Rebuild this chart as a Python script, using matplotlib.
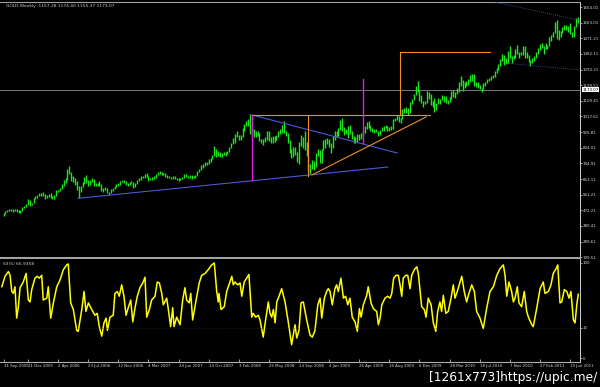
import numpy as np
import matplotlib
matplotlib.use("Agg")
import matplotlib.pyplot as plt
import matplotlib.transforms as mtransforms

# weekly bars from 11 Sep 2005, one value per week
hi = [453, 470, 474,
      478, 480, 477, 478, 477,
      472, 472, 490, 498,
      508, 538, 530, 516,
      542, 552, 561, 570, 573,
      575, 567, 558, 566,
      570, 553, 560, 587,
      590, 600, 625, 646, 660,
      710, 730, 695, 670,
      660, 640, 615, 610,
      633, 665, 675, 645, 645,
      660, 655, 632, 632,
      640, 625, 600, 605,
      602, 580, 593, 600, 610,
      627, 632, 642, 650,
      650, 640, 628, 635, 640,
      636, 632, 650, 657,
      668, 670, 684, 688,
      673, 658, 665, 670,
      680, 692, 697, 693, 686,
      686, 676, 672, 664,
      673, 670, 662, 658,
      658, 667, 685, 685, 670,
      675, 675, 670, 676,
      697, 713, 732, 740, 750,
      750, 770, 775, 795,
      845, 830, 815, 812,
      807, 812, 808, 818, 838,
      865, 892, 913, 930,
      912, 912, 950, 975,
      990, 1005, 1032, 948, 945,
      930, 935, 920, 885,
      888, 898, 930, 935,
      898, 902, 905, 910, 935,
      945, 965, 990, 930,
      920, 880, 825, 840, 840,
      810, 870, 910, 895,
      935, 870, 790, 740,
      765, 760, 805, 830, 820,
      830, 880, 885, 890,
      885, 860, 905, 935,
      930, 950, 995, 1007,
      955, 945, 962, 965, 935,
      905, 895, 915, 915,
      920, 935, 960, 985, 990,
      965, 950, 945, 945,
      935, 940, 957, 960,
      970, 962, 955, 960, 1000,
      1010, 1025, 1020, 1010,
      1060, 1065, 1070, 1065,
      1100, 1120, 1150, 1195, 1226,
      1170, 1140, 1110, 1110,
      1163, 1162, 1145, 1105, 1125,
      1097, 1127, 1120, 1140,
      1138, 1135, 1112, 1130,
      1165, 1170, 1160, 1185,
      1215, 1250, 1230, 1215, 1225,
      1235, 1260, 1265, 1262,
      1215, 1215, 1200, 1185,
      1210, 1218, 1237, 1240, 1255,
      1260, 1280, 1300, 1320,
      1350, 1380, 1375, 1360, 1398,
      1425, 1370, 1375, 1410,
      1432, 1395, 1390, 1425,
      1425, 1390, 1375, 1345, 1360,
      1368, 1392, 1415, 1440,
      1445, 1425, 1447, 1435,
      1478, 1490, 1510, 1565,
      1577, 1520, 1515, 1540, 1550,
      1550, 1545, 1560, 1510,
      1545, 1590, 1595]

lo = [440, 450, 463,
      466, 467, 463, 466, 463,
      456, 457, 468, 484,
      492, 503, 494, 500,
      512, 536, 543, 552, 555,
      555, 538, 540, 550,
      544, 535, 538, 555,
      577, 585, 595, 612, 630,
      650, 680, 640, 634,
      620, 590, 543, 575,
      604, 625, 630, 615, 620,
      638, 615, 615, 615,
      615, 585, 575, 590,
      570, 560, 570, 585, 595,
      605, 614, 620, 634,
      632, 619, 613, 618, 628,
      603, 608, 627, 642,
      648, 658, 662, 665,
      640, 645, 648, 656,
      660, 675, 685, 677, 674,
      667, 660, 657, 652,
      655, 652, 650, 642,
      648, 652, 662, 664, 660,
      660, 655, 658, 662,
      670, 693, 704, 720, 730,
      732, 740, 755, 768,
      788, 780, 790, 780,
      783, 795, 790, 798, 813,
      835, 855, 860, 895,
      880, 883, 900, 935,
      960, 960, 915, 915, 900,
      895, 905, 875, 860,
      850, 870, 882, 875,
      860, 865, 870, 880, 900,
      915, 920, 920, 905,
      865, 805, 775, 780, 795,
      755, 740, 845, 835,
      820, 785, 700, 682,
      710, 705, 725, 790, 745,
      745, 820, 835, 858,
      840, 805, 835, 880,
      895, 905, 940, 935,
      910, 915, 890, 915, 885,
      865, 865, 868, 880,
      885, 905, 922, 945, 950,
      930, 925, 922, 925,
      905, 910, 932, 935,
      948, 935, 930, 940, 945,
      990, 995, 985, 980,
      1000, 1040, 1040, 1025,
      1040, 1090, 1115, 1140, 1160,
      1110, 1095, 1075, 1090,
      1095, 1120, 1085, 1075, 1045,
      1055, 1088, 1087, 1115,
      1100, 1095, 1088, 1100,
      1120, 1130, 1125, 1150,
      1160, 1195, 1165, 1180, 1195,
      1200, 1215, 1225, 1195,
      1190, 1180, 1175, 1157,
      1175, 1192, 1210, 1222, 1230,
      1240, 1245, 1268, 1290,
      1310, 1340, 1315, 1320, 1330,
      1360, 1330, 1350, 1360,
      1380, 1360, 1372, 1375,
      1360, 1355, 1335, 1310, 1330,
      1340, 1355, 1380, 1405,
      1415, 1380, 1410, 1410,
      1425, 1455, 1480, 1500,
      1465, 1462, 1480, 1505, 1520,
      1520, 1510, 1495, 1478,
      1480, 1535, 1560]

last_price = 1173.07

price_levels = [1654.01, 1563.01, 1471.21, 1382.11, 1290.21, 1199.51, 1109.41,
                1017.61, 925.81, 834.01, 744.91, 653.11, 561.21, 472.21,
                380.41, 289.61, 199.51]

date_pos = [0, 13, 29, 45, 61, 77, 93, 109, 125, 141, 157, 173, 189, 205,
            221, 237, 253, 269, 285, 301]
date_labels = ["11 Sep 2005", "11 Dec 2005", "2 Apr 2006", "23 Jul 2006",
               "12 Nov 2006", "4 Mar 2007", "24 Jun 2007", "14 Oct 2007",
               "3 Feb 2008", "25 May 2008", "14 Sep 2008", "4 Jan 2009",
               "26 Apr 2009", "16 Aug 2009", "6 Dec 2009", "28 Mar 2010",
               "18 Jul 2010", "7 Nov 2010", "27 Feb 2011", "19 Jun 2011"]

# oscillator (bar position, value)
osc_bar = [-0.9, 0.8, 2.6, 3.5, 4.4, 5.2, 6.1, 7.0, 7.9, 8.8, 10.5, 12.0, 13.2,
           14.1, 15.0, 16.7, 18.0, 19.0, 20.3, 21.1, 23.0, 23.8, 25.1, 26.5,
           28.3, 30.0, 31.8, 33.6, 34.4, 35.7, 37.1, 38.9, 39.7, 41.6, 42.8,
           43.8, 45.1, 46.9, 48.6, 49.8, 50.9, 52.2, 53.4, 54.5, 55.2, 56.6,
           58.3, 59.2, 60.5, 61.5, 62.8, 64.0, 65.1, 66.3, 67.6, 68.7, 69.9,
           71.1, 72.5, 74.0, 75.2, 76.1, 77.5, 78.7, 80.5, 81.7, 82.8, 84.1,
           84.9, 86.7, 87.6, 88.8, 89.9, 90.6, 92.0, 93.8, 95.2, 96.4, 97.3,
           98.7, 99.5, 100.5, 102.7, 104.0,
           105.3, 107.1, 108.8, 110.6, 112.0, 113.3, 114.1, 114.5, 115.6,
           117.3, 118.6, 121.3, 122.1, 123.0, 124.4, 125.7, 126.6, 127.9,
           129.2, 130.4, 131.9, 132.7, 134.0, 135.4, 136.3, 138.0, 138.9,
           140.7, 141.6, 142.5, 143.4, 144.3, 145.2, 146.4, 147.8, 149.6,
           151.3, 153.1, 154.9, 155.8, 157.0, 158.1, 159.3, 161.1, 162.9,
           164.1, 165.5, 167.0, 168.2, 169.1, 170.5, 171.7, 172.6, 173.5,
           174.7, 176.1, 177.0, 177.9, 179.3, 180.6, 181.8, 182.9, 184.1,
           185.3, 186.8, 188.0, 189.1, 190.0, 191.2, 193.0, 193.8, 195.3,
           196.5, 198.3, 199.2, 200.1, 201.0, 202.7, 204.1, 205.4, 206.3,
           207.3, 208.6, 209.8, 210.7, 211.6, 212.4, 213.7, 214.8, 216.0,
           216.9, 218.3, 219.6, 220.4, 222.2, 223.6, 224.5, 225.7, 227.2,
           228.4, 229.7, 230.7, 231.9, 232.8, 233.7, 235.0, 236.3, 237.8,
           239.0, 239.9, 241.1, 242.6, 243.5, 244.8, 246.1, 247.0, 248.8,
           250.2, 251.4, 253.2, 254.9, 256.7, 258.5, 260.3, 262.1, 263.8,
           265.6, 266.5, 267.4, 268.6, 270.0, 270.9, 271.8, 273.0, 273.9,
           275.3, 276.7, 278.0, 278.9, 280.7, 281.5, 283.3, 285.1, 286.8,
           287.7, 289.5, 290.9, 292.1, 293.6, 294.5, 295.7, 296.6, 298.0,
           299.3, 300.5, 301.5, 302.8, 303.7, 304.6, 305.4]
osc_val = [75, 86, 91, 87, 70, 68, 75, 42, 54, 74, 80, 89, 61,
           59, 72, 84, 86, 84, 87, 61, 63, 75, 42, 58,
           75, 82, 93, 98, 99, 58, 51, 29, 28, 51, 70,
           49, 58, 51, 45, 47, 33, 23, 37, 42, 29, 43,
           45, 68, 70, 65, 77, 65, 45, 53, 61, 38, 53,
           65, 74, 79, 85, 43, 51, 61, 65, 80, 79, 68,
           56, 63, 51, 33, 53, 33, 43, 35, 61, 74, 61,
           58, 68, 40, 65, 79,
           87, 89, 93, 98, 100, 70, 59, 68, 51,
           54, 70, 86, 77, 80, 77, 79, 65, 80,
           84, 88, 43, 47, 43, 45, 40, 22, 35,
           59, 47, 43, 51, 37, 59, 65, 73, 59,
           38, 14, 35, 21, 29, 58, 59, 40, 24,
           22, 29, 56, 63, 42, 63, 70, 73, 70,
           56, 73, 77, 70, 84, 63, 65, 56, 63,
           43, 38, 28, 52, 43, 56, 66, 75, 58,
           52, 49, 35, 42, 56, 63, 65, 63, 68,
           84, 87, 87, 77, 65, 84, 87, 87, 73,
           87, 93, 96, 89, 54, 51, 43, 63, 56,
           37, 28, 49, 59, 49, 66, 47, 49, 63,
           77, 63, 70, 80, 86, 70, 59, 66, 77,
           70, 49, 42, 31, 52, 70, 75, 87, 94,
           98, 87, 65, 80, 70, 59, 63, 75, 58,
           54, 70, 49, 43, 35, 33, 52, 73, 80,
           68, 70, 77, 89, 94, 98, 58, 59, 72,
           70, 63, 70, 40, 37, 56, 67]
osc_levels = [100, 32, 0]

# drawn objects on the chart (bar position, price)
blue_lines = [([39.6, 204.3], [541, 723]), ([132.0, 209.1], [1026, 805])]
orange_lines = [([132.0, 226.6], [1026, 1026]), ([163.9, 224.5], [677, 1014]),
                ([161.8, 161.8], [1026, 671]), ([210.7, 210.7], [1392, 1026]),
                ([210.7, 258.5], [1392, 1392])]
magenta_lines = [([132.0, 132.0], [1026, 648]), ([191.0, 191.0], [1235, 863])]
channel_lines = [([258.5, 306.3], [1689, 1576]), ([266.5, 306.3], [1328, 1287])]

W, H = 600, 387
fig = plt.figure(figsize=(W / 100, H / 100), dpi=100, facecolor="black")
ax = fig.add_axes([0, 1 - 258 / H, 580 / W, 256 / H], facecolor="black")
ax2 = fig.add_axes([0, 1 - 362 / H, 580 / W, 104 / H], facecolor="black")

bars = np.arange(len(hi))
ax.vlines(bars, lo, hi, color="#1ee61e", lw=1.0, zorder=2)
ax.axhline(last_price, color="#8c8c8c", lw=0.6, zorder=1)

for xs, ys in blue_lines:
    ax.plot(xs, ys, color="#4b58d8", lw=0.8, zorder=3)
for xs, ys in orange_lines:
    ax.plot(xs, ys, color="#f0901e", lw=0.8, zorder=3)
for xs, ys in magenta_lines:
    ax.plot(xs, ys, color="#e020e0", lw=1.0, zorder=3)
for xs, ys in channel_lines:
    ax.plot(xs, ys, color="#4c5a9c", lw=0.6, ls=(0, (1, 1.5)), zorder=3)

ax.set_xlim(-1.86, 306.32)
ax.set_ylim(193.7, 1683.1)
ax.set_xticks([])
ax.yaxis.tick_right()
ax.set_yticks(price_levels, [f"{v:.2f}" for v in price_levels])
ax.tick_params(axis="y", labelsize=2.9, colors="#d8d8d8", length=1.5, width=0.5, pad=0.6)
for s in ["left", "bottom"]:
    ax.spines[s].set_visible(False)
ax.spines["top"].set_color("#a0a0a0")
ax.spines["top"].set_linewidth(0.8)
ax.spines["right"].set_color("#d0d0d0")
ax.spines["right"].set_linewidth(0.7)

trans = mtransforms.blended_transform_factory(ax.transAxes, ax.transData)
ax.text(1.004, last_price, f"{last_price:.2f}", transform=trans, fontsize=2.9,
        color="black", va="center", ha="left",
        bbox=dict(facecolor="white", edgecolor="none", pad=0.4))

fig.text(6 / W, 1 - 6 / H, "GOLD,Weekly  1157.28 1174.40 1155.37 1173.07",
         fontsize=3.2, color="#d0d0d0", va="center", ha="left")

# oscillator window
ax2.plot(osc_bar, osc_val, color="#ffff00", lw=1.1)
ax2.axhline(osc_levels[1], color="#333333", lw=0.5, ls=(0, (1, 2)))
ax2.set_xlim(-1.86, 306.32)
ax2.set_ylim(-4.21, 105.26)
ax2.yaxis.tick_right()
ax2.set_yticks(osc_levels, [str(v) for v in osc_levels])
ax2.tick_params(axis="y", labelsize=2.9, colors="#d8d8d8", length=1.5, width=0.5, pad=0.6)
ax2.set_xticks(date_pos, date_labels)
ax2.tick_params(axis="x", labelsize=2.8, colors="#d8d8d8", length=2, width=0.5,
                direction="in", pad=1.5)
for t in ax2.get_xticklabels():
    t.set_ha("left")
ax2.spines["left"].set_visible(False)
ax2.spines["top"].set_color("#a8a8a8")
ax2.spines["top"].set_linewidth(1.4)
ax2.spines["bottom"].set_color("#b0b0b0")
ax2.spines["bottom"].set_linewidth(0.8)
ax2.spines["right"].set_color("#d0d0d0")
ax2.spines["right"].set_linewidth(0.7)
ax2.text(3 / 580, 0.942, "S3(5) 66.9358", transform=ax2.transAxes, fontsize=3.2,
         color="#d0d0d0", va="center", ha="left")

fig.text(597 / W, 1 - 377 / H, "[1261x773]https://upic.me/", fontsize=8.8,
         color="white", ha="right", va="center")

fig.savefig("out.png", dpi=100, facecolor="black")
